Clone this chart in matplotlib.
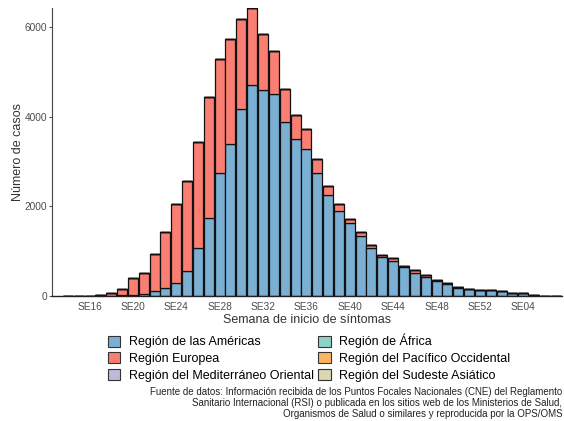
import matplotlib
matplotlib.use("Agg")
from matplotlib import pyplot as plt
from matplotlib.patches import Patch
import numpy as np

plt.rcParams['font.family'] = ['Liberation Sans', 'DejaVu Sans']

# Epidemiological weeks SE14 (year 1) ... SE07 (year 2)
weeks = [f"SE{w:02d}" for w in range(14, 53)] + [f"SE{w:02d}" for w in range(1, 8)]

americas = [10, 0, 5, 15, 0, 15, 30, 50, 120, 180, 290, 560, 1060, 1750,
            2740, 3400, 4170, 4700, 4600, 4500, 3880, 3510, 3280, 2740, 2260,
            1890, 1620, 1340, 1070, 870, 785, 640, 520, 430, 330, 260, 170,
            150, 130, 140, 105, 60, 60, 20, 5, 3]
europea = [0, 0, 0, 0, 60, 135, 370, 470, 810, 1240, 1770, 2010, 2370, 2700,
           2550, 2340, 2020, 1720, 1250, 960, 750, 540, 440, 320, 190,
           170, 90, 80, 70, 50, 55, 20, 60, 40, 30, 40, 20,
           0, 0, 0, 0, 0, 0, 0, 0, 0]
mediterraneo = [0] * 46
africa = [0] * 46
pacifico = [0] * 46
sudeste = [0] * 46

tick_labels = ["SE16", "SE20", "SE24", "SE28", "SE32", "SE36", "SE40",
               "SE44", "SE48", "SE52", "SE04"]

regions = [
    ("Región de las Américas", americas, "#7BAFD4"),
    ("Región Europea", europea, "#FA7E72"),
    ("Región del Mediterráneo Oriental", mediterraneo, "#BEBADA"),
    ("Región de África", africa, "#8DD3C7"),
    ("Región del Pacífico Occidental", pacifico, "#FDB462"),
    ("Región del Sudeste Asiático", sudeste, "#D9D8B0"),
]

fig = plt.figure(figsize=(5.64, 4.21), dpi=100)
ax = fig.add_axes([0.092, 0.297, 0.905, 0.684])

x = np.arange(len(weeks))
bottom = np.zeros(len(weeks))
for name, vals, col in regions:
    vals = np.array(vals, dtype=float)
    ax.bar(x, vals, bottom=bottom, width=0.92, color=col,
           edgecolor="#111111", linewidth=0.9)
    bottom += vals

ax.set_xlim(-1.47, 45.6)
ax.set_ylim(0, 6430)
ax.set_yticks([0, 2000, 4000, 6000])
ax.set_xticks([weeks.index(t) for t in tick_labels])
ax.set_xticklabels(tick_labels)
ax.tick_params(axis="both", labelsize=7.3, colors="#4d4d4d", length=2, pad=1.5)
ax.tick_params(axis="x", length=0, pad=4)

for s in ["top", "right"]:
    ax.spines[s].set_visible(False)
ax.spines["left"].set_color("#444444")
ax.spines["bottom"].set_color("#222222")
ax.spines["left"].set_linewidth(0.8)
ax.spines["bottom"].set_linewidth(1.0)

ax.set_ylabel("Número de casos", fontsize=9, color="#333333", labelpad=0.5)
ax.set_xlabel("Semana de inicio de síntomas", fontsize=9, color="#333333",
              labelpad=1.5)

handles = [Patch(facecolor=c, edgecolor="#333333", linewidth=0.8, label=n)
           for n, _, c in regions]
fig.legend(handles=handles, ncol=2, loc="center", bbox_to_anchor=(0.548, 0.150),
           frameon=False, fontsize=9, handlelength=1.0, handleheight=1.0,
           handletextpad=0.7, columnspacing=0.35, labelspacing=0.3)

fig.text(0.997, 0.043,
         "Fuente de datos: Información recibida de los Puntos Focales Nacionales (CNE) del Reglamento\n"
         "Sanitario Internacional (RSI) o publicada en los sitios web de los Ministerios de Salud,\n"
         "Organismos de Salud o similares y reproducida por la OPS/OMS",
         ha="right", va="center", fontsize=7, color="#222222", linespacing=1.15)

fig.savefig("out.png", dpi=100)
